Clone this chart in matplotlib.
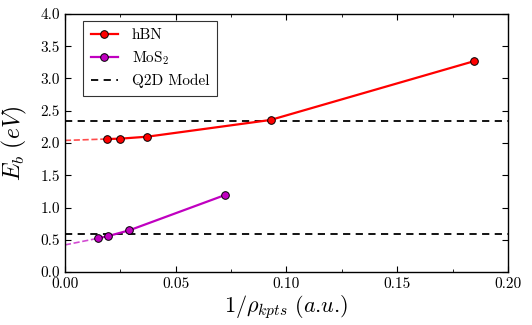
import matplotlib
matplotlib.use("Agg")
import matplotlib.pyplot as plt
from matplotlib.ticker import MultipleLocator

plt.rcParams['font.family'] = ['cmr10', 'DejaVu Serif']
plt.rcParams['mathtext.fontset'] = 'cm'
plt.rcParams['axes.formatter.use_mathtext'] = True

# data
hbn_x = [0.0189, 0.0249, 0.0372, 0.0928, 0.1845]
hbn_y = [2.062, 2.067, 2.098, 2.357, 3.267]
hbn_extrap_y0 = 2.04
mos2_x = [0.0148, 0.0196, 0.0291, 0.0723]
mos2_y = [0.522, 0.558, 0.647, 1.194]
mos2_extrap_y0 = 0.42
q2d_hbn = 2.346
q2d_mos2 = 0.594

xticks = [0.00, 0.05, 0.10, 0.15, 0.20]
yticks = [0.0, 0.5, 1.0, 1.5, 2.0, 2.5, 3.0, 3.5, 4.0]

fig = plt.figure(figsize=(5.32, 3.25), dpi=100)
ax = fig.add_axes([0.122, 0.163, 0.833, 0.794])

red = '#ff0000'
mag = '#c000c0'

ax.plot(hbn_x, hbn_y, '-o', color=red, lw=1.6, ms=5.5, mec='black', mew=0.7, label='hBN', zorder=3)
ax.plot([0, hbn_x[0]], [hbn_extrap_y0, hbn_y[0]], '--', color=red, lw=1.2, alpha=0.7, zorder=2)
ax.plot(mos2_x, mos2_y, '-o', color=mag, lw=1.6, ms=5.5, mec='black', mew=0.7, label='MoS$_2$', zorder=3)
ax.plot([0, mos2_x[0]], [mos2_extrap_y0, mos2_y[0]], '--', color=mag, lw=1.2, alpha=0.7, zorder=2)
ax.axhline(q2d_hbn, color='black', ls='--', lw=1.3, dashes=(4, 3), label='Q2D Model', zorder=1)
ax.axhline(q2d_mos2, color='black', ls='--', lw=1.3, dashes=(4, 3), zorder=1)

ax.set_xlim(0, 0.20)
ax.set_ylim(0, 4.0)
ax.set_xticks(xticks)
ax.set_yticks(yticks)
ax.set_xticklabels([f'{v:.2f}' for v in xticks])
ax.set_yticklabels([f'{v:.1f}' for v in yticks])
ax.xaxis.set_minor_locator(MultipleLocator(0.025))
ax.tick_params(which='both', direction='in', top=True, right=True, labelsize=11)
ax.tick_params(which='major', length=4)
ax.tick_params(which='minor', length=2.5)
for s in ax.spines.values():
    s.set_linewidth(1.0)
ax.set_xlabel(r'$1/\rho_{kpts}\ (a$.$u$.$)$', fontsize=16, labelpad=2)
ax.set_ylabel(r'$E_b\ (eV)$', fontsize=17, labelpad=8)

leg = ax.legend(loc='upper left', fontsize=11, frameon=True, fancybox=False,
                edgecolor='black', borderpad=0.5, handlelength=1.8, labelspacing=0.45,
                handletextpad=0.9, borderaxespad=0.0,
                bbox_to_anchor=(0.041, 0.973))
leg.get_frame().set_linewidth(0.8)

fig.savefig('out.png', dpi=100)
